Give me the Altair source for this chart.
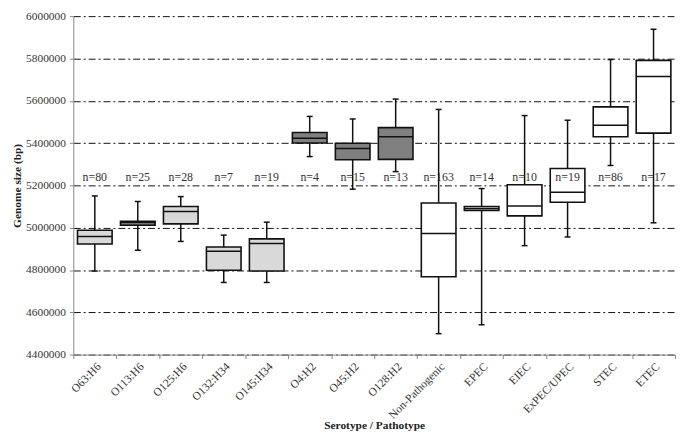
import altair as alt
import pandas as pd

categories = ["O63:H6", "O113:H6", "O125:H6", "O132:H34", "O145:H34",
              "O4:H2", "O45:H2", "O128:H2", "Non-Pathogenic", "EPEC",
              "EIEC", "ExPEC/UPEC", "STEC", "ETEC"]
groups = ["light"] * 5 + ["dark"] * 3 + ["pathotype"] * 6
n_counts = [80, 25, 28, 7, 19, 4, 15, 13, 163, 14, 10, 19, 86, 17]
whisker_low = [4795000, 4893000, 4935000, 4741000, 4741000, 5336000, 5182000,
               5265000, 4499000, 4541000, 4915000, 4956000, 5294000, 5023000]
q1 = [4923000, 5012000, 5018000, 4799000, 4795000, 5400000, 5321000,
      5323000, 4768000, 5082000, 5056000, 5120000, 5430000, 5447000]
median = [4958000, 5023000, 5077000, 4889000, 4925000, 5423000, 5374000,
          5430000, 4973000, 5091000, 5103000, 5167000, 5484000, 5715000]
q3 = [4988000, 5030000, 5100000, 4909000, 4947000, 5450000, 5399000,
      5473000, 5117000, 5100000, 5203000, 5280000, 5571000, 5791000]
whisker_high = [5150000, 5124000, 5147000, 4965000, 5026000, 5526000, 5514000,
                5608000, 5559000, 5185000, 5530000, 5508000, 5795000, 5938000]
y_ticks = [4400000, 4600000, 4800000, 5000000, 5200000, 5400000, 5600000,
           5800000, 6000000]
label_level = 5240000

df = pd.DataFrame({
    "category": categories,
    "group": groups,
    "label": ["n=%d" % v for v in n_counts],
    "low": whisker_low,
    "q1": q1,
    "median": median,
    "q3": q3,
    "high": whisker_high,
})

FONT = "Liberation Serif"
YT = "Genome size (bp)"
y_scale = alt.Scale(domain=[4400000, 6000000], nice=False, zero=False)

x_enc = alt.X(
    "category:N", sort=categories,
    scale=alt.Scale(paddingInner=0, paddingOuter=0),
    axis=alt.Axis(title="Serotype / Pathotype", labelAngle=-45, tickBand="extent",
                  grid=False, labelPadding=2, titleY=72, titleBaseline="middle"),
)

base = alt.Chart(df).encode(x=x_enc)

whisk = base.mark_rule(color="#111", strokeWidth=1.5).encode(
    y=alt.Y("low:Q", scale=y_scale, title=YT,
            axis=alt.Axis(values=y_ticks, format="d", grid=True)),
    y2="high:Q",
)
box = base.mark_bar(size=35, stroke="#111", strokeWidth=1.6, opacity=1).encode(
    y=alt.Y("q1:Q", scale=y_scale, title=YT),
    y2="q3:Q",
    fill=alt.Fill("group:N", scale=alt.Scale(domain=["light", "dark", "pathotype"],
                                             range=["#d9d9d9", "#808080", "#ffffff"]),
                  legend=None),
)
med = base.mark_tick(size=35, thickness=1.5, color="#111", opacity=1).encode(
    y=alt.Y("median:Q", scale=y_scale, title=YT))
cap_low = base.mark_tick(size=6, thickness=1.5, color="#111", opacity=1).encode(
    y=alt.Y("low:Q", scale=y_scale, title=YT))
cap_high = base.mark_tick(size=6, thickness=1.5, color="#111", opacity=1).encode(
    y=alt.Y("high:Q", scale=y_scale, title=YT))
txt = base.mark_text(font=FONT, fontSize=12, color="#333", baseline="middle").encode(
    y=alt.datum(label_level, scale=y_scale), text="label:N")

chart = alt.layer(whisk, box, med, cap_low, cap_high, txt).properties(
    width=608, height=342,
    padding={"left": 66, "top": 6, "right": 2, "bottom": 78},
    autosize=alt.AutoSizeParams(type="none"),
).configure_view(stroke=None).configure_axis(
    domainColor="#888", tickColor="#888", tickSize=4,
    labelFont=FONT, labelFontSize=11.5, labelColor="#333",
    titleFont=FONT, titleFontSize=11.5, titleFontWeight="bold", titleColor="#222",
    gridColor="#111", gridDash=[7, 3, 2, 3], gridWidth=1,
).configure_axisY(labelPadding=4, titlePadding=3)

chart.save("out.html", embed_options={"renderer": "svg", "actions": False})
